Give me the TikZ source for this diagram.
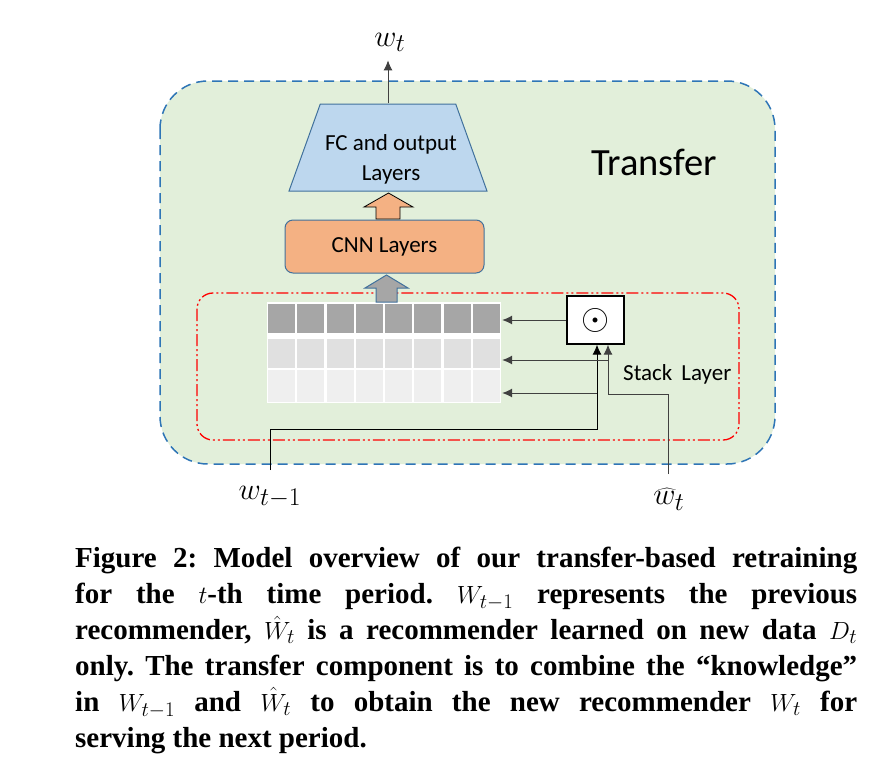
\documentclass[tikz,border=0pt]{standalone}
\usepackage{graphicx}
\usepackage{fontspec}
\setmainfont{Liberation Serif}
\newfontfamily\calibri{Carlito}
\usetikzlibrary{arrows.meta,shapes.geometric}

\definecolor{boxgreen}{HTML}{E2EFDA}
\definecolor{boxblue}{HTML}{2E75B6}
\definecolor{fcblue}{HTML}{BDD7EE}
\definecolor{edgeblue}{HTML}{41719C}
\definecolor{cnnorange}{HTML}{F4B183}
\definecolor{celldark}{HTML}{A6A6A6}
\definecolor{cellmid}{HTML}{E0E0E0}
\definecolor{celllight}{HTML}{EFEFEF}

\begin{document}
\begin{tikzpicture}[x=1pt,y=-1pt,
	arr/.style={draw=black!75, line width=0.9pt, -{Latex[length=10pt,width=9pt]}},
	lbl/.style={font=\fontsize{24.88}{25}\selectfont, inner sep=0pt},
	layer/.style={font=\calibri\fontsize{23}{30}\selectfont, align=center}]
	% frame
\useasboundingbox (0,0) rectangle (887,772);

   \draw[boxblue, fill=boxgreen, line width=1.5pt, dash pattern=on 10pt off 6pt, rounded corners=48pt] (160,81) rectangle (775,464);
   \draw[red, line width=1.3pt, dash pattern=on 12pt off 3pt on 2pt off 3pt on 2pt off 3pt, rounded corners=16pt] (197,293) rectangle (739,440);

   \node[anchor=base west, font=\calibri\fontsize{38.5}{38.5}\selectfont, inner sep=0pt] (transfer) at (591,175) {Transfer};

   \node[draw=edgeblue, fill=fcblue, line width=1pt, trapezium, trapezium stretches=true, trapezium left angle=77, trapezium right angle=77, minimum width=198pt, minimum height=87pt] (fc) at (388,147.5) {};
   \node[layer] (fctext) at (391,159) {FC and output\\Layers};

   \node[draw=edgeblue, fill=cnnorange, line width=1pt, rounded corners=8pt, minimum width=199pt, minimum height=53pt, layer] (cnn) at (384.5,246.5) {CNN Layers};

   \draw[black, fill=cnnorange, line width=0.8pt] (376,219) -- (376,207) -- (364,207) -- (388.5,193) -- (413,207) -- (400,207) -- (400,219) -- cycle;

   % stacked rows
   \node[fill=white, inner sep=0pt, minimum width=234pt, minimum height=101pt] (grid) at (384,352.5) {};
   \foreach \i in {0,...,7} {
      \fill[celldark] ({268.2+\i*29.25},304) rectangle ++(26.9,28.5);
      \fill[cellmid] ({268.2+\i*29.25},339) rectangle ++(26.9,28.5);
      \fill[celllight] ({268.2+\i*29.25},370) rectangle ++(26.9,31.5);
   }

   \draw[edgeblue, fill=celldark, line width=1pt] (376,302) -- (376,288) -- (365,288) -- (386.5,275) -- (408,288) -- (397,288) -- (397,302) -- cycle;

   \node[draw, fill=white, line width=1.3pt, minimum width=57pt, minimum height=48pt, inner sep=0pt] (dot) at (595.5,320) {\fontsize{24.88}{25}\selectfont\scalebox{1.45}{$\odot$}};
   \node[anchor=base west, font=\calibri\fontsize{23}{23}\selectfont, inner sep=0pt] (stack) at (623,380) {Stack\hspace{9pt}Layer};

   \node[lbl] (wt) at (390,42) {\scalebox{1.23}{$w_t$}};
   \node[lbl] (wprev) at (270,497) {\scalebox{1.23}{$w_{t-1}$}};
   \node[lbl] (what) at (669,499) {\scalebox{1.23}{$\widehat{w}_t$}};

   \coordinate (wprevin) at (270,470);
   \coordinate (j1) at (597,429);
   \coordinate (j2) at (597,393);
   \coordinate (hatin) at (668,474);
   \coordinate (k1) at (668,394);
   \coordinate (k2) at (608,394);
   \coordinate (k3) at (608,360);

   \path[arr] (fc.north) -- ([yshift=-9pt]fc.north |- wt.south);
   \path[arr] (dot.west) -- ([xshift=1pt]dot.west -| grid.east);
   \path[arr, draw=black] (wprevin) |- (j1) -- (j1 |- dot.south);
   \path[arr] (j2) -- ([xshift=1pt]j2 -| grid.east);
   \path[arr] (hatin) -- (k1) -- (k2) -- (k2 |- dot.south);
   \path[arr] (k3) -- ([xshift=1pt]k3 -| grid.east);

   % caption
   \node[anchor=north west, text width=782pt, inner sep=0pt, align=justify, font=\bfseries\fontsize{29}{35.9}\selectfont\frenchspacing] (caption) at (75,547) {Figure 2: Model overview of our transfer-based retraining\linebreak
for the $t$-th time period. $W_{t-1}$ represents the previous\linebreak
recommender, $\hat{W}_t$ is a recommender learned on new data $D_t$\linebreak
only. The transfer component is to combine the ``knowledge''\linebreak
in $W_{t-1}$ and $\hat{W}_t$ to obtain the new recommender $W_t$ for\linebreak
serving the next period.};

   \end{tikzpicture}
\end{document}
